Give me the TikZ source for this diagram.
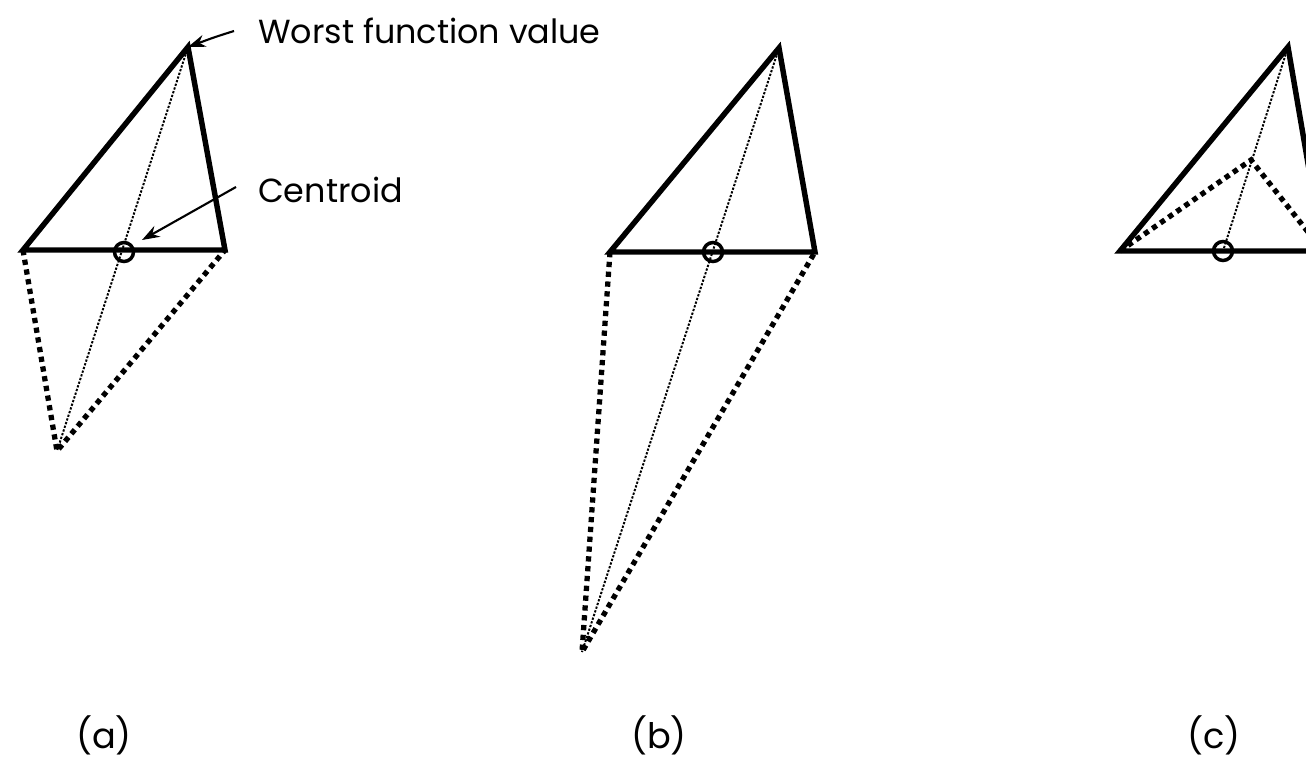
\documentclass[tikz,border=0pt]{standalone}
\usepackage{fontspec}
\setmainfont{Poppins}
\usetikzlibrary{arrows.meta}

\begin{document}
\begin{tikzpicture}[
  x={(0.02cm,0)}, y={(0,-0.02cm)},
  every node/.style={font=\fontsize{19}{22}\selectfont},
  edge/.style={line width=3.1pt, line join=miter},
  trial/.style={line width=3pt, dash pattern=on 3pt off 2.6pt},
  axis/.style={line width=1.1pt, dash pattern=on 1.3pt off 0.9pt},
  centroid/.style={draw, circle, line width=2pt, minimum size=0.38cm, inner sep=0pt},
  pointer/.style={-{Stealth[length=10pt, width=7pt]}, line width=1.2pt},
  caption/.style={font=\fontsize{20}{24}\selectfont}
]
\useasboundingbox (0,0) rectangle (1306,761);
\clip (0,0) rectangle (1306,761);

% (a) reflection
\coordinate (la) at (23,250);
\coordinate (ra) at (225,250);
\coordinate (ta) at (188,47);
\coordinate (pa) at (57,451);
\node[centroid] (ca) at (124,252) {};
\draw[trial] (la) -- (pa) -- (ra);
\draw[axis] (ta) -- (pa);
\draw[edge] (la) -- (ta) -- (ra) -- cycle;
\node[anchor=west] (worst) at (252,31) {Worst function value};
\node[anchor=west] (cent) at (252,190) {Centroid};
\draw[pointer] (worst.west) ++(-18,0) coordinate (wt) .. controls (215,37) .. (ta);
\draw[pointer] (cent.west) ++(-16,-3) coordinate (ct) -- (142,240);
\node[caption] (capa) at (104,735) {(a)};

% (b) expansion
\coordinate (lb) at (610,252);
\coordinate (rb) at (815,252);
\coordinate (tb) at (779,48);
\coordinate (pb) at (582,652);
\node[centroid] (cb) at (713,252) {};
\draw[trial] (lb) -- (pb) -- (rb);
\draw[axis] (tb) -- (pb);
\draw[edge] (lb) -- (tb) -- (rb) -- cycle;
\node[caption] (capb) at (659,735) {(b)};

% (c) contraction
\coordinate (lc) at (1120,251);
\coordinate (rc) at (1323,251);
\coordinate (tc) at (1288,47);
\coordinate (pc) at (1251,160);
\node[centroid] (cc) at (1223,251) {};
\draw[trial] (lc) -- (pc) -- (rc);
\draw[axis] (tc) -- (cc.center);
\draw[edge] (lc) -- (tc) -- (rc) -- cycle;
\node[caption] (capc) at (1214,735) {(c)};
\end{tikzpicture}
\end{document}
